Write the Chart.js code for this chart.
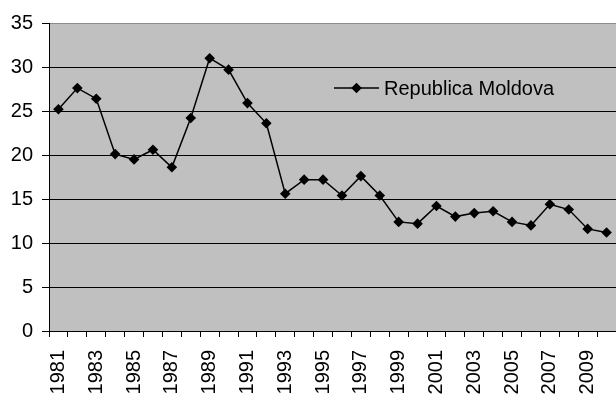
<!DOCTYPE html>
<html>
<head>
<meta charset="utf-8">
<script src="https://cdn.jsdelivr.net/npm/chart.js@4"></script>
<style>
  html, body { margin: 0; padding: 0; background: #fff; }
  #wrap { width: 616px; height: 394px; }
</style>
</head>
<body>
<div id="wrap"><canvas id="c" width="616" height="394"></canvas></div>
<script>
// Years on the category axis
const years = ['1981','1982','1983','1984','1985','1986','1987','1988','1989','1990',
               '1991','1992','1993','1994','1995','1996','1997','1998','1999','2000',
               '2001','2002','2003','2004','2005','2006','2007','2008','2009','2010'];
// Series values
const moldova = [25.2, 27.6, 26.4, 20.1, 19.5, 20.6, 18.6, 24.2, 31.0, 29.7,
                 25.9, 23.6, 15.6, 17.2, 17.2, 15.4, 17.6, 15.4, 12.4, 12.2,
                 14.2, 13.0, 13.4, 13.6, 12.4, 12.0, 14.4, 13.8, 11.6, 11.2];
const seriesName = 'Republica Moldova';
const yTicks = [0, 5, 10, 15, 20, 25, 30, 35];

const FONT = '"Liberation Sans", Arial, sans-serif';

function diamond(ctx, x, y, r) {
  ctx.beginPath();
  ctx.moveTo(x, y - r);
  ctx.lineTo(x + r, y);
  ctx.lineTo(x, y + r);
  ctx.lineTo(x - r, y);
  ctx.closePath();
  ctx.fill();
}

// Grey plot background
const plotBackground = {
  id: 'plotBackground',
  beforeDraw(chart) {
    const { ctx, chartArea: a } = chart;
    ctx.save();
    ctx.fillStyle = '#c0c0c0';
    ctx.fillRect(a.left, a.top, a.right - a.left, a.bottom - a.top);
    ctx.restore();
  }
};

// Legend drawn inside the plot area
const innerLegend = {
  id: 'innerLegend',
  afterDatasetsDraw(chart) {
    const { ctx, chartArea: a } = chart;
    const ds = chart.data.datasets[0];
    const x0 = a.left + 285, y0 = a.top + 65;
    ctx.save();
    ctx.strokeStyle = '#000';
    ctx.lineWidth = 1.5;
    ctx.beginPath();
    ctx.moveTo(x0, y0);
    ctx.lineTo(x0 + 45, y0);
    ctx.stroke();
    ctx.fillStyle = '#000';
    diamond(ctx, x0 + 22.5, y0, 5.3);
    ctx.font = '20px ' + FONT;
    ctx.textBaseline = 'middle';
    ctx.textAlign = 'left';
    ctx.fillText(ds.label, x0 + 50, y0 + 1);
    ctx.restore();
  }
};

new Chart(document.getElementById('c'), {
  type: 'line',
  data: {
    labels: years,
    datasets: [{
      label: seriesName,
      data: moldova,
      borderColor: '#000',
      borderWidth: 1.5,
      backgroundColor: '#000',
      pointStyle: 'rectRot',
      pointRadius: 5.3,
      pointBorderWidth: 0,
      pointBackgroundColor: '#000',
      pointBorderColor: '#000',
      tension: 0,
      fill: false
    }]
  },
  options: {
    responsive: false,
    animation: false,
    devicePixelRatio: 1,
    layout: { autoPadding: false, padding: { top: 23, right: 0, left: 0, bottom: 0 } },
    plugins: {
      legend: { display: false },
      tooltip: { enabled: false }
    },
    scales: {
      x: {
        offset: true,
        grid: {
          offset: true,
          drawOnChartArea: false,
          drawTicks: true,
          tickLength: 6,
          color: '#000',
          lineWidth: 1
        },
        border: { color: '#000', width: 1 },
        ticks: {
          autoSkip: false,
          maxRotation: 90,
          minRotation: 90,
          padding: 13,
          color: '#000',
          font: { family: FONT, size: 20 },
          callback: (v, i) => (i % 2 === 0 ? years[i] : '')
        },
        afterFit: s => { s.height = 63; s.paddingLeft = 0; s.paddingRight = 0; }
      },
      y: {
        min: 0,
        max: 35,
        afterBuildTicks: s => { s.ticks = yTicks.map(v => ({ value: v })); },
        grid: {
          color: c => (c.tick && c.tick.value === 35 ? '#8c8c8c' : '#000'),
          lineWidth: 1,
          tickLength: 7,
          tickColor: '#000'
        },
        border: { color: '#000', width: 1 },
        ticks: {
          padding: 9,
          color: '#000',
          font: { family: FONT, size: 20 }
        },
        afterFit: s => { s.width = 49; }
      }
    }
  },
  plugins: [plotBackground, innerLegend]
});
</script>
</body>
</html>
